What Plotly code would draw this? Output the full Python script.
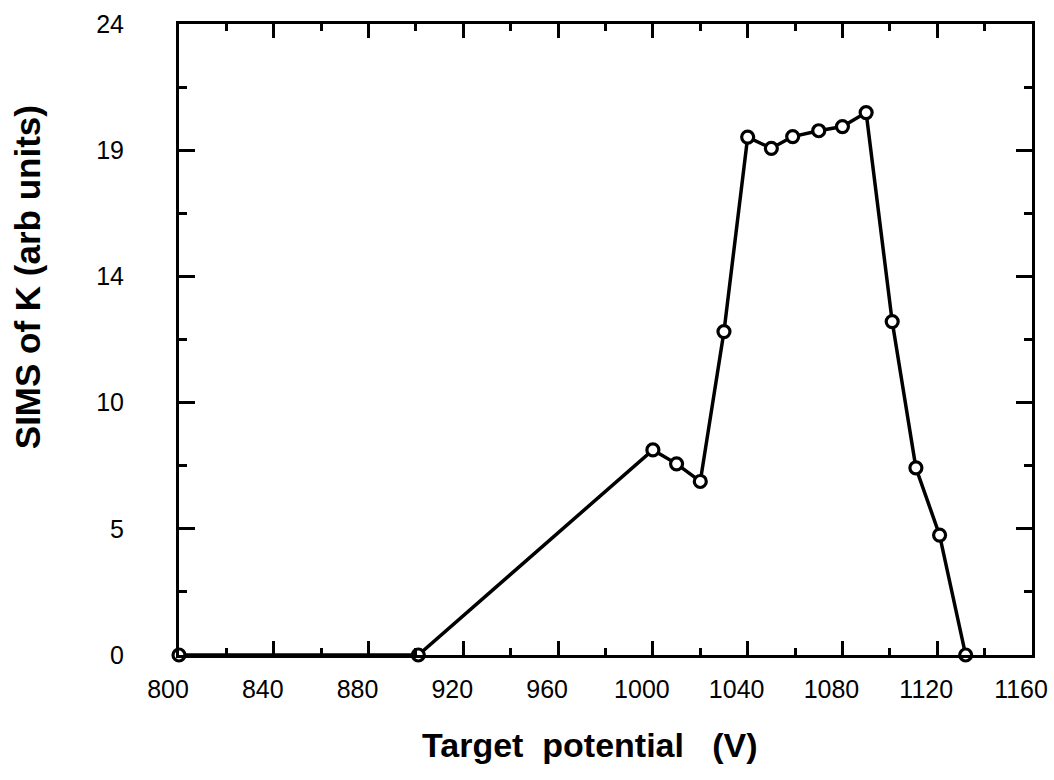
import plotly.graph_objects as go

# Data
potential_V = [800, 901, 1000, 1010, 1020, 1030, 1040, 1050, 1059, 1070, 1080, 1090, 1101, 1111, 1121, 1132]
sims_K = [0, 0, 7.8, 7.27, 6.6, 12.3, 19.7, 19.27, 19.72, 19.94, 20.1, 20.63, 12.68, 7.12, 4.56, 0]

x_ticks = [800, 840, 880, 920, 960, 1000, 1040, 1080, 1120, 1160]
y_tickvals = [0, 4.8, 9.6, 14.4, 19.2, 24]
y_ticktext = ["0", "5", "10", "14", "19", "24"]

fig = go.Figure()
fig.add_trace(go.Scatter(
    x=potential_V, y=sims_K, mode="lines+markers",
    line=dict(color="black", width=3.5),
    marker=dict(symbol="circle", size=12, color="white",
                line=dict(color="black", width=3.2)),
    cliponaxis=False, showlegend=False,
))

font_main = "Liberation Sans, Arial, Helvetica, sans-serif"

fig.update_layout(
    width=1054, height=780,
    margin=dict(l=179, r=22, t=24, b=125),
    paper_bgcolor="white", plot_bgcolor="white",
    font=dict(family=font_main, size=25, color="black"),
    xaxis=dict(
        range=[800, 1160], tickmode="array", tickvals=x_ticks,
        ticks="inside", ticklen=14, tickwidth=2.5, tickcolor="black",
        minor=dict(tickmode="linear", tick0=800, dtick=20, ticks="inside",
                   ticklen=7, tickwidth=2.5, tickcolor="black"),
        showline=True, linecolor="black", linewidth=3, mirror="ticks",
        showgrid=False, zeroline=False, ticklabelstandoff=10,
        ticklabelshift=-11, automargin=False,
        tickfont=dict(size=25),
    ),
    yaxis=dict(
        range=[0, 24], tickmode="array", tickvals=y_tickvals, ticktext=y_ticktext,
        ticks="inside", ticklen=16, tickwidth=2.5, tickcolor="black",
        minor=dict(tickmode="linear", tick0=0, dtick=2.4, ticks="inside",
                   ticklen=8, tickwidth=2.5, tickcolor="black"),
        showline=True, linecolor="black", linewidth=3, mirror="ticks",
        showgrid=False, zeroline=False, ticklabelstandoff=47,
        automargin=False,
        tickfont=dict(size=25),
    ),
    annotations=[
        dict(text="<b>Target\u00a0\u00a0potential\u00a0\u00a0\u00a0(V)</b>", xref="paper", yref="paper",
             x=0.482, y=-0.1426, xanchor="center", yanchor="middle", showarrow=False,
             font=dict(size=34, family=font_main)),
        dict(text="<b>SIMS of K (arb units)</b>", xref="paper", yref="paper",
             x=-0.178, y=0.599, xanchor="center", yanchor="middle", textangle=-90,
             showarrow=False, font=dict(size=35, family=font_main)),
    ],
)

fig.write_html("out.html")
